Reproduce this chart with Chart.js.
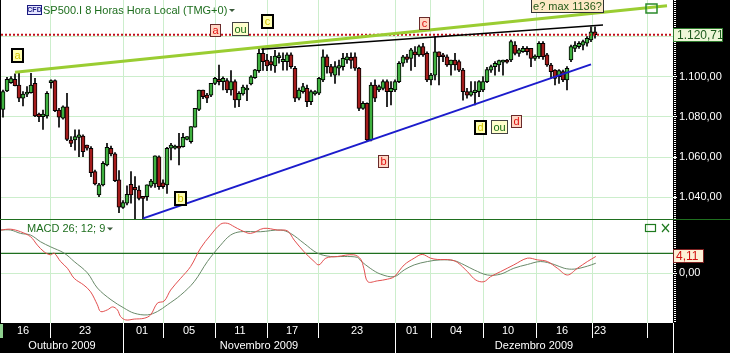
<!DOCTYPE html>
<html lang="pt">
<head>
<meta charset="UTF-8">
<title>SP500.I 8 Horas - MACD</title>
<script src="https://cdn.jsdelivr.net/npm/chart.js"></script>
<style>
  html, body { margin: 0; padding: 0; background: #000; }
  #wrap { position: relative; width: 730px; height: 353px; overflow: hidden; }
  #priceBox { position: absolute; left: 0; top: 0; width: 730px; height: 219px; }
  #macdBox { position: absolute; left: 0; top: 219px; width: 730px; height: 134px; }
  canvas { display: block; }
</style>
</head>
<body>
<div id="wrap">
  <div id="priceBox"><canvas id="priceChart" width="730" height="219"></canvas></div>
  <div id="macdBox"><canvas id="macdChart" width="730" height="134"></canvas></div>
</div>

<script>
// --- candles (8h bars) ---
const opens = [
  1083.7,1092.8,1097.0,1098.6,1095.8,1089.2,1091.2,1092.0,1096.6,1081.4,
  1080.1,1080.4,1097.0,1098.0,1083.4,1079.3,1085.0,1068.5,1068.5,1069.8,
  1070.5,1066.0,1064.4,1052.8,1041.2,1046.2,1056.1,1064.4,1061.6,1048.7,
  1035.0,1037.1,1046.5,1045.0,1043.7,1040.4,1040.4,1045.6,1046.7,1060.2,
  1047.3,1046.2,1064.4,1064.4,1065.5,1065.2,1068.8,1067.7,1074.8,1083.7,
  1093.3,1090.8,1090.8,1096.6,1098.6,1097.5,1098.0,1093.3,1097.5,1088.4,
  1091.3,1093.3,1096.3,1099.4,1102.9,1111.5,1108.2,1107.4,1105.2,1109.4,
  1107.4,1107.4,1110.7,1104.1,1089.2,1092.5,1094.1,1087.5,1091.3,1091.7,
  1098.3,1109.8,1104.9,1100.7,1104.1,1104.9,1108.2,1109.5,1109.8,1104.1,
  1084.2,1086.7,1068.5,1095.8,1093.3,1094.1,1097.5,1092.5,1093.3,1097.5,
  1106.6,1109.8,1109.0,1112.3,1110.7,1114.8,1111.5,1098.3,1100.7,1112.3,
  1110.7,1109.8,1105.7,1108.2,1107.4,1103.2,1092.5,1090.8,1092.0,1092.5,
  1093.3,1097.5,1103.2,1104.9,1105.7,1107.1,1108.2,1108.2,1115.6,1111.5,
  1112.3,1114.0,1114.0,1109.0,1109.8,1116.5,1110.7,1105.7,1103.2,1099.9,
  1102.4,1098.3,1108.2,1114.0,1114.8,1115.6,1116.5,1118.1,1122.2
];
const highs = [
  1093.3,1099.6,1100.0,1101.3,1101.6,1092.5,1095.0,1101.6,1099.1,1081.8,
  1083.4,1092.5,1098.3,1098.3,1084.2,1085.4,1091.7,1070.2,1073.5,1073.5,
  1071.0,1066.0,1065.2,1053.6,1047.0,1057.8,1066.9,1065.5,1062.2,1053.3,
  1038.4,1045.7,1052.8,1050.3,1045.7,1040.4,1046.2,1049.0,1060.6,1060.6,
  1048.7,1064.9,1066.9,1066.0,1071.8,1071.8,1070.2,1075.1,1084.2,1093.3,
  1093.3,1091.7,1096.6,1099.6,1105.7,1099.9,1099.0,1102.9,1098.3,1092.5,
  1095.8,1095.8,1100.5,1103.6,1113.8,1114.0,1111.0,1110.0,1113.0,1111.8,
  1111.8,1111.8,1111.8,1105.0,1094.2,1096.6,1095.8,1093.3,1093.0,1099.6,
  1113.2,1110.7,1106.0,1107.4,1108.2,1111.5,1111.5,1111.8,1111.8,1104.5,
  1087.5,1087.0,1097.0,1098.3,1095.8,1098.3,1098.3,1097.5,1098.3,1107.4,
  1110.5,1111.0,1114.0,1114.8,1115.6,1116.5,1112.3,1101.6,1119.8,1112.3,
  1111.5,1110.7,1108.2,1111.5,1108.2,1104.1,1094.1,1097.5,1097.5,1098.0,
  1100.0,1104.5,1105.7,1107.4,1108.2,1108.2,1108.5,1118.1,1117.3,1114.0,
  1115.0,1114.8,1114.0,1110.7,1117.3,1117.3,1111.5,1106.6,1103.5,1103.5,
  1103.2,1104.9,1115.6,1117.3,1117.3,1118.1,1119.8,1124.7,1124.7
];
const lows = [
  1079.8,1092.5,1096.6,1095.3,1087.5,1085.4,1090.0,1091.7,1080.1,1077.6,
  1073.8,1079.3,1094.2,1082.6,1074.8,1078.8,1068.2,1065.2,1063.5,1060.2,
  1060.2,1063.5,1050.3,1046.2,1040.4,1045.7,1055.6,1060.6,1047.8,1032.4,
  1034.6,1036.3,1037.1,1028.8,1038.7,1029.0,1038.5,1045.0,1045.0,1044.0,
  1044.5,1042.0,1058.6,1064.0,1056.1,1064.9,1068.5,1066.9,1074.8,1083.0,
  1089.0,1087.0,1090.0,1096.0,1095.8,1093.3,1092.0,1090.8,1084.7,1085.0,
  1090.8,1088.0,1095.8,1099.0,1102.0,1103.0,1102.9,1103.0,1102.0,1106.6,
  1103.2,1103.2,1104.0,1087.5,1088.4,1091.7,1085.0,1086.0,1090.8,1091.0,
  1097.5,1101.6,1100.0,1096.6,1100.7,1103.2,1106.5,1104.0,1103.0,1083.0,
  1083.7,1067.7,1068.0,1087.5,1092.5,1093.3,1085.0,1085.9,1092.5,1097.0,
  1105.0,1107.0,1103.0,1104.9,1110.0,1110.0,1097.5,1095.8,1098.3,1095.8,
  1107.4,1105.0,1100.7,1103.2,1102.4,1088.3,1089.2,1090.3,1085.9,1090.0,
  1092.5,1097.0,1102.0,1100.7,1102.5,1100.7,1106.6,1107.4,1110.7,1110.0,
  1112.0,1110.7,1104.9,1108.0,1109.0,1108.5,1105.0,1099.1,1095.8,1096.6,
  1097.5,1093.3,1107.4,1112.3,1114.0,1113.2,1115.0,1117.3,1119.0
];
const closes = [
  1092.5,1098.6,1099.0,1095.5,1089.2,1091.3,1092.3,1095.8,1080.4,1080.1,
  1081.4,1091.7,1098.0,1083.1,1079.8,1085.0,1068.8,1066.8,1070.2,1071.0,
  1062.7,1064.4,1052.3,1046.7,1046.2,1056.9,1064.9,1061.6,1048.3,1035.1,
  1037.4,1041.5,1041.2,1043.7,1039.5,1039.5,1046.2,1048.1,1060.6,1045.3,
  1045.3,1064.4,1066.0,1065.5,1064.4,1069.8,1070.2,1075.1,1084.2,1093.3,
  1090.0,1089.2,1096.6,1099.1,1097.5,1099.1,1093.3,1097.5,1088.4,1091.7,
  1094.7,1094.2,1099.9,1103.3,1111.5,1107.4,1105.2,1105.7,1110.2,1110.2,
  1108.5,1110.7,1104.9,1089.2,1093.3,1095.0,1087.5,1092.5,1092.5,1099.1,
  1109.8,1104.9,1101.6,1104.9,1105.4,1109.0,1109.8,1108.0,1104.1,1084.2,
  1086.7,1068.5,1095.8,1089.2,1095.0,1097.5,1092.5,1094.1,1097.5,1106.6,
  1109.8,1108.5,1113.2,1110.7,1114.8,1110.7,1098.3,1100.7,1112.3,1109.8,
  1109.8,1105.7,1108.2,1105.7,1103.2,1092.5,1090.8,1092.5,1093.3,1097.5,
  1097.5,1103.5,1104.9,1106.6,1107.9,1108.2,1107.1,1117.3,1111.5,1113.2,
  1114.0,1112.3,1109.0,1110.2,1116.5,1109.8,1105.7,1102.4,1099.1,1102.9,
  1098.3,1104.1,1114.8,1115.6,1116.5,1117.3,1118.9,1122.2,1120.71
];

// --- MACD 26;12;9 (bar index, value) ---
const macdAt = [-0.6,1.9,4.4,6.9,8.6,10.3,11.9,12.8,14.4,16.1,17.8,20.2,21.9,23.6,24.4,26.1,27.4,28.6,29.4,30.7,
  32.8,35.3,36.9,38.6,40.3,41.9,44.4,46.9,49.4,51.9,54.4,56.1,57.8,59.4,61.9,65.2,68.6,71.1,72.8,75.3,
  77.8,79.0,80.7,83.6,87.7,89.4,90.2,91.2,93.6,96.1,97.8,100.3,102.8,104.8,106.9,108.6,111.9,113.6,116.1,118.2,
  120.2,121.9,124.4,127.7,131.1,133.6,136.1,138.6,141.1,143.6,146.1,148.2];
const macdVals = [10.3,10.5,9.9,8.7,6.7,5.1,4.4,4.8,2.8,1.2,-1.2,-2.8,-4.4,-7.5,-9.1,-8.7,-8.0,-8.7,-10.3,-11.1,
  -10.9,-10.7,-9.9,-7.1,-6.6,-4.0,-1.2,1.6,6.0,9.1,11.7,11.9,11.1,10.3,9.5,10.7,10.3,10.1,7.9,5.1,
  2.8,2.0,3.6,4.0,4.4,3.4,1.2,-2.0,-1.8,-1.4,-0.8,2.0,3.6,4.5,3.6,3.3,3.2,2.6,0.4,-1.6,
  -2.0,-0.8,0.4,2.0,3.6,3.2,2.8,1.2,-0.4,1.2,2.8,4.0];
const signalAt = [-0.6,1.9,4.4,6.9,9.4,11.9,15.3,17.8,21.1,23.6,27.0,30.3,32.8,36.1,38.6,41.1,44.4,47.8,51.1,54.4,
  56.9,59.4,64.4,69.4,71.9,75.3,78.6,81.9,85.3,88.6,89.4,91.8,94.4,97.8,100.3,102.8,106.1,109.4,112.8,115.3,
  117.8,121.1,124.4,127.7,131.1,134.4,137.8,140.3,142.8,146.1,148.2];
const signalVals = [10.3,10.3,9.5,9.1,7.5,6.3,4.8,2.8,0.1,-3.5,-6.3,-8.3,-9.5,-9.9,-9.1,-7.5,-5.2,-2.0,2.8,6.7,
  9.1,9.9,9.9,10.3,9.5,7.1,4.8,4.0,4.0,3.8,3.0,1.2,-0.2,-0.8,0.8,2.0,2.8,3.2,3.0,2.0,
  0.8,-0.4,-0.2,1.2,2.1,2.8,2.1,1.2,1.0,1.7,2.4];
const macdLevel = 4.76;
const macdLast = '4,11';

// --- axis ticks ---
const priceTicks = [1040, 1060, 1080, 1100, 1120];
const macdTicks = [0];
const dayLines = [11.75, 30, 40, 53, 66, 78.75, 98, 107, 120, 133.25, 147.25, 161];
const dayLabels = ['16', '23', '01', '05', '11', '17', '23', '01', '04', '10', '16', '23'];
const dayLabelAt = [5, 20.5, 34.75, 46.5, 59.25, 72.25, 88.5, 102.25, 113.25, 126.25, 139.75, 149.25];
const monthLabels = ['Outubro 2009', 'Novembro 2009', 'Dezembro 2009'];
const monthStarts = [30, 98];

// --- drawn trend lines [bar index, price] ---
const greenLine = [[3.0, 1102.1], [166.0, 1135.1]];
const blackLine = [[64.6, 1113.5], [150.0, 1125.6]];
const blueLine = [[35.0, 1029.6], [147.0, 1106.05]];

// --- chart notes [bar index, price, text, kind] ---
const notes = [
  [3.6, 1110.4, 'a', 'mark'],
  [53.25, 1122.7, 'a', 'red'],
  [59.25, 1123.6, 'ou', 'ou'],
  [66.1, 1127.1, 'c', 'mark'],
  [105.25, 1126.3, 'c', 'red'],
  [141.1, 1135.0, 'e? max 1136?', 'note'],
  [44.25, 1039.5, 'b', 'mark'],
  [95.0, 1057.6, 'b', 'red'],
  [119.25, 1074.7, 'd', 'mark'],
  [124.1, 1074.7, 'ou', 'ou'],
  [128.3, 1077.6, 'd', 'red']
];
const boxMarker = [161.9, 1134.0];

const X_MIN = -0.5, X_MAX = 167.5;
const PRICE_MIN = 1029.29, PRICE_MAX = 1137.97;
const MACD_MIN = -11.83, MACD_MAX = 12.69;

const GRID = 'rgb(204,238,204)';
const UP = '#3fb03f';
const DOWN = '#a41c1c';
const FONT = '"Liberation Sans", Arial, sans-serif';

Chart.defaults.font.family = FONT;
Chart.defaults.font.size = 11;

function fmtNum(v) {
  const parts = Number(v).toFixed(2).split('.');
  return parts[0].replace(/\B(?=(\d{3})+(?!\d))/g, '.') + ',' + parts[1];
}

function xAxis() {
  return {
    type: 'linear', min: X_MIN, max: X_MAX, offset: false,
    grid: { color: GRID, drawTicks: false, offset: false },
    border: { display: false },
    ticks: { display: false },
    afterBuildTicks: s => { s.ticks = dayLines.map(v => ({ value: v })); },
    afterFit: s => { s.height = 0; }
  };
}

function yAxis(min, max, ticks) {
  return {
    position: 'right', min, max,
    afterBuildTicks: s => { s.ticks = ticks.map(v => ({ value: v })); },
    afterFit: s => { s.width = 57; s.paddingTop = 0; s.paddingBottom = 0; },
    grid: { color: GRID, tickColor: '#fff', tickLength: 4 },
    border: { display: false },
    ticks: { color: '#fff', padding: 2, font: { size: 11 }, callback: v => fmtNum(v) }
  };
}

const tagStyles = {
  mark: { fill: '#ffffb4', stroke: '#000', lw: 2, color: '#cfc200', padX: 2.5, h: 15 },
  red:  { fill: '#ffd6c4', stroke: '#6a2a2a', lw: 1, color: '#e01010', padX: 2, h: 13 },
  ou:   { fill: '#ffffcc', stroke: '#444', lw: 1, color: '#136b13', padX: 2, h: 14 },
  note: { fill: '#fde9c6', stroke: '#333', lw: 1, color: '#245a18', padX: 1.5, h: 14 }
};

function tag(ctx, cx, cy, text, kind) {
  const st = tagStyles[kind];
  ctx.font = '11px ' + FONT;
  const w = Math.round(ctx.measureText(text).width + st.padX * 2 + st.lw);
  const h = st.h;
  const x = Math.round(cx - w / 2), y = Math.round(cy - h / 2);
  ctx.fillStyle = st.fill;
  ctx.fillRect(x, y, w, h);
  ctx.lineWidth = st.lw;
  ctx.strokeStyle = st.stroke;
  ctx.strokeRect(x + st.lw / 2, y + st.lw / 2, w - st.lw, h - st.lw);
  ctx.fillStyle = st.color;
  ctx.textAlign = 'center';
  ctx.textBaseline = 'middle';
  ctx.fillText(text, x + w / 2, y + h / 2 + 0.5);
}

function ruler(ctx, x, top, bottom) {
  ctx.save();
  ctx.strokeStyle = '#fff';
  ctx.lineWidth = 2;
  ctx.setLineDash([1, 1]);
  ctx.beginPath();
  ctx.moveTo(x, top);
  ctx.lineTo(x, bottom);
  ctx.stroke();
  ctx.restore();
}

const priceDecor = {
  id: 'priceDecor',
  beforeDraw(chart) {
    const { ctx, width, height, chartArea: a } = chart;
    ctx.save();
    ctx.fillStyle = '#fff';
    ctx.fillRect(0, 0, width, height);
    ctx.fillStyle = '#000';
    ctx.fillRect(a.right, 0, width - a.right, height);
    ctx.restore();
  },
  afterDraw(chart) {
    const { ctx, chartArea: a } = chart;
    const xs = chart.scales.x, ys = chart.scales.y;
    ctx.save();
    ruler(ctx, a.right + 2, 0, chart.height);

    // left border
    ctx.fillStyle = '#000';
    ctx.fillRect(0, 0, 1, chart.height);

    // last price tag
    const last = closes[closes.length - 1];
    const py = Math.round(ys.getPixelForValue(last));
    ctx.fillStyle = '#eef7d8';
    ctx.fillRect(a.right, py - 7, 50, 14);
    ctx.strokeStyle = '#2d7a2d';
    ctx.lineWidth = 1;
    ctx.strokeRect(a.right + 0.5, py - 6.5, 49, 13);
    ctx.fillStyle = '#1c5a1c';
    ctx.font = '12px ' + FONT;
    ctx.textAlign = 'left';
    ctx.textBaseline = 'middle';
    ctx.fillText(fmtNum(last), a.right + 4, py + 0.5);

    // notes
    notes.forEach(n => tag(ctx, xs.getPixelForValue(n[0]), ys.getPixelForValue(n[1]), n[2], n[3]));

    // small green box marker
    const bx = Math.round(xs.getPixelForValue(boxMarker[0])), by = Math.round(ys.getPixelForValue(boxMarker[1]));
    ctx.strokeStyle = '#2a8a2a';
    ctx.lineWidth = 1.5;
    ctx.strokeRect(bx - 5, by - 4, 11, 9);

    // headline
    ctx.fillStyle = '#e6e6ff';
    ctx.fillRect(27, 5, 15, 10);
    ctx.strokeStyle = '#1a1a80';
    ctx.lineWidth = 1;
    ctx.strokeRect(27.5, 5.5, 14, 9);
    ctx.fillStyle = '#1a1a80';
    ctx.font = 'bold 7px ' + FONT;
    ctx.textAlign = 'center';
    ctx.fillText('CFD', 34.5, 10.5);
    ctx.fillStyle = '#1e6e1e';
    ctx.font = '11px ' + FONT;
    ctx.textAlign = 'left';
    ctx.fillText('SP500.I 8 Horas Hora Local (TMG+0)', 43, 10.5);
    ctx.fillStyle = '#3a5a3a';
    ctx.beginPath();
    ctx.moveTo(229, 9); ctx.lineTo(235, 9); ctx.lineTo(232, 12); ctx.closePath();
    ctx.fill();
    ctx.restore();
  }
};

const macdDecor = {
  id: 'macdDecor',
  beforeDraw(chart) {
    const { ctx, width, height, chartArea: a } = chart;
    ctx.save();
    ctx.fillStyle = '#fff';
    ctx.fillRect(0, 0, width, height);
    ctx.fillStyle = '#000';
    ctx.fillRect(a.right, 0, width - a.right, height);
    ctx.fillRect(0, a.bottom, width, height - a.bottom);
    ctx.restore();
  },
  afterDraw(chart) {
    const { ctx, width, height, chartArea: a } = chart;
    const xs = chart.scales.x, ys = chart.scales.y;
    ctx.save();
    ruler(ctx, a.right + 2, 0, a.bottom);
    ctx.fillStyle = '#000';
    ctx.fillRect(0, 0, 1, a.bottom);

    // panel separator
    ctx.fillStyle = '#1f6f1f';
    ctx.fillRect(0, 0, width, 1);

    // title
    ctx.fillStyle = '#1e6e1e';
    ctx.font = '11px ' + FONT;
    ctx.textAlign = 'left';
    ctx.textBaseline = 'middle';
    ctx.fillText('MACD 26; 12; 9', 27, 10);
    ctx.fillStyle = '#3a5a3a';
    ctx.beginPath();
    ctx.moveTo(107, 8.5); ctx.lineTo(113, 8.5); ctx.lineTo(110, 11.5); ctx.closePath();
    ctx.fill();

    // window buttons
    ctx.strokeStyle = '#1f7a1f';
    ctx.lineWidth = 1.2;
    ctx.strokeRect(645.5, 5.5, 10, 7);
    ctx.beginPath();
    ctx.moveTo(662, 5); ctx.lineTo(669, 13);
    ctx.moveTo(669, 5); ctx.lineTo(662, 13);
    ctx.stroke();

    // last value tag
    const vy = Math.round(ys.getPixelForValue(parseFloat(macdLast.replace(',', '.'))));
    ctx.fillStyle = '#fdf0d6';
    ctx.fillRect(a.right, vy - 7, 31, 14);
    ctx.strokeStyle = '#7a2020';
    ctx.lineWidth = 1;
    ctx.strokeRect(a.right + 0.5, vy - 6.5, 30, 13);
    ctx.fillStyle = '#d01010';
    ctx.font = '12px ' + FONT;
    ctx.fillText(macdLast, a.right + 3, vy + 0.5);

    // date axis
    const top = a.bottom, mid = a.bottom + 15;
    ctx.fillStyle = '#8fd08f';
    ctx.fillRect(0, top + 1, 3, 14);
    ctx.strokeStyle = '#fff';
    ctx.lineWidth = 1;
    ctx.beginPath();
    dayLines.forEach(v => {
      const x = Math.round(xs.getPixelForValue(v)) + 0.5;
      ctx.moveTo(x, top); ctx.lineTo(x, mid);
    });
    monthStarts.forEach(v => {
      const x = Math.round(xs.getPixelForValue(v)) + 0.5;
      ctx.moveTo(x, mid); ctx.lineTo(x, height);
    });
    ctx.moveTo(a.right + 0.5, top); ctx.lineTo(a.right + 0.5, height);
    ctx.stroke();

    ctx.fillStyle = '#fff';
    ctx.font = '11px ' + FONT;
    ctx.textAlign = 'center';
    ctx.textBaseline = 'middle';
    dayLabels.forEach((t, i) => ctx.fillText(t, xs.getPixelForValue(dayLabelAt[i]), top + 8));
    const bounds = [X_MIN].concat(monthStarts, [X_MAX]);
    monthLabels.forEach((t, i) => {
      const cx = (xs.getPixelForValue(bounds[i]) + xs.getPixelForValue(bounds[i + 1])) / 2;
      ctx.fillText(t, cx, top + 23);
    });
    ctx.restore();
  }
};

const toPts = pairs => pairs.map(p => ({ x: p[0], y: p[1] }));
const trend = (pairs, color, width, dash) => ({
  type: 'line', data: toPts(pairs), borderColor: color, borderWidth: width,
  borderDash: dash || [], pointRadius: 0, order: 1
});

new Chart(document.getElementById('priceChart'), {
  type: 'bar',
  data: {
    datasets: [
      {
        data: highs.map((h, i) => ({ x: i, y: [lows[i], h] })),
        backgroundColor: '#000', barThickness: 1, grouped: false, order: 3
      },
      {
        data: opens.map((o, i) => ({ x: i, y: [o, closes[i]] })),
        backgroundColor: c => closes[c.dataIndex] >= opens[c.dataIndex] ? UP : DOWN,
        borderColor: '#000', borderWidth: 1, borderSkipped: false,
        barThickness: 4, minBarLength: 2, grouped: false, order: 2
      },
      trend(blueLine, '#1c1ccc', 2),
      trend(blackLine, '#000', 1.5),
      trend(greenLine, '#9acd32', 3),
      trend([[X_MIN, closes[closes.length - 1]], [X_MAX, closes[closes.length - 1]]], '#c0101a', 2, [2, 2])
    ]
  },
  options: {
    responsive: false, animation: false, devicePixelRatio: 1,
    layout: { padding: { left: 1, right: 0, top: 0, bottom: 0 } },
    plugins: { legend: { display: false }, tooltip: { enabled: false } },
    scales: { x: xAxis(), y: yAxis(PRICE_MIN, PRICE_MAX, priceTicks) }
  },
  plugins: [priceDecor]
});

new Chart(document.getElementById('macdChart'), {
  type: 'line',
  data: {
    datasets: [
      { data: macdAt.map((x, i) => ({ x, y: macdVals[i] })), borderColor: '#e34f4f', borderWidth: 1, pointRadius: 0, tension: 0.35 },
      { data: signalAt.map((x, i) => ({ x, y: signalVals[i] })), borderColor: '#6a8a6a', borderWidth: 1, pointRadius: 0, tension: 0.35 },
      { data: [{ x: X_MIN, y: macdLevel }, { x: X_MAX, y: macdLevel }], borderColor: '#1f6f1f', borderWidth: 1.2, pointRadius: 0 }
    ]
  },
  options: {
    responsive: false, animation: false, devicePixelRatio: 1,
    layout: { padding: { left: 1, right: 0, top: 1, bottom: 30 } },
    plugins: { legend: { display: false }, tooltip: { enabled: false } },
    scales: { x: xAxis(), y: yAxis(MACD_MIN, MACD_MAX, macdTicks) }
  },
  plugins: [macdDecor]
});
</script>
</body>
</html>
